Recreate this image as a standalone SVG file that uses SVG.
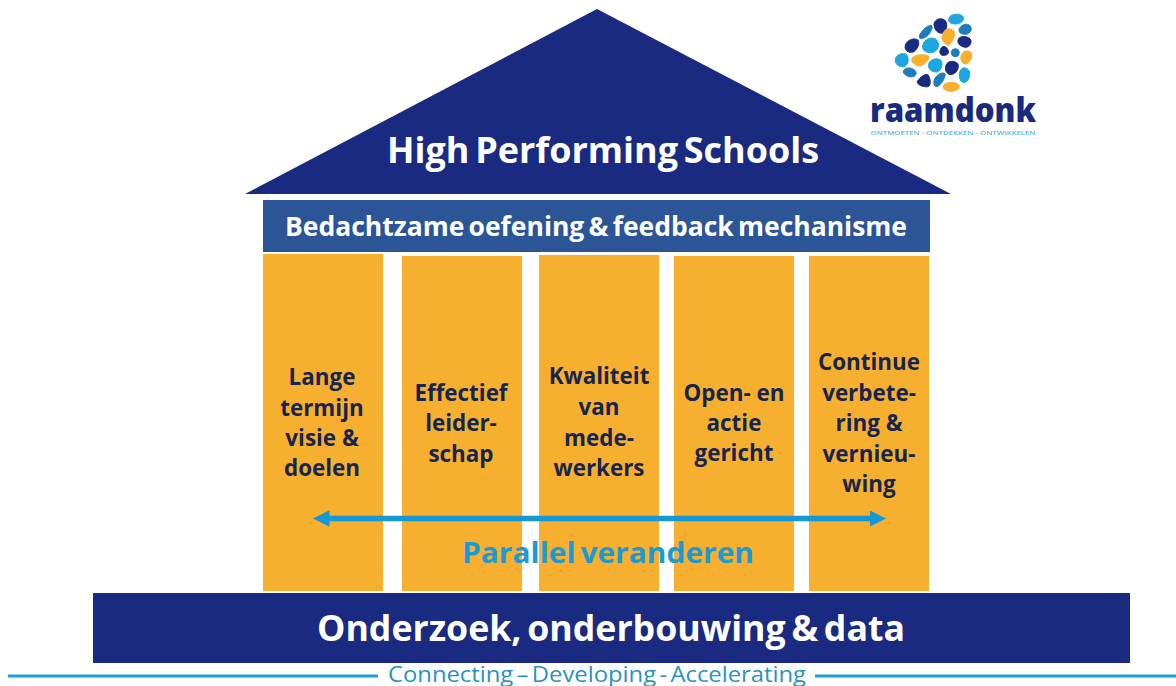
<svg xmlns="http://www.w3.org/2000/svg" width="1176" height="686" viewBox="0 0 1176 686">
<style>
text{font-family:"Open Sans","Noto Sans",sans-serif;text-anchor:middle}
.nv{fill:#1a2a80}.or{fill:#f7af30}
.pl{font-size:22.400px;font-weight:700;fill:#16254f}
.w{fill:#fff;font-weight:700;word-spacing:-.1em}
.lb{fill:#1ea7de;stroke:#1ea7de;stroke-width:3}.mb{fill:#1b7dbb;stroke:#1b7dbb;stroke-width:3}.dk{fill:#1a2a80;stroke:#1a2a80;stroke-width:3}.og{fill:#f7af30;stroke:#f7af30;stroke-width:3}
</style>
<defs><marker id="ah" markerWidth="3.100" markerHeight="3.100" refX="1" refY="1.500" orient="auto-start-reverse"><path d="M0 0L3 1.500L0 3z" fill="#1598d6"/></marker></defs>
<rect width="1176" height="686" fill="#fff"/>
<g id="roof"><polygon class="nv" points="597,9 951,194 245,194"/><text class="w" x="603" y="163" font-size="35" textLength="432" lengthAdjust="spacingAndGlyphs">High Performing Schools</text></g>
<g id="beam"><rect x="263" y="200" width="667" height="52" fill="#2b5597"/><text class="w" x="596" y="236" font-size="26" textLength="622" lengthAdjust="spacingAndGlyphs">Bedachtzame oefening &amp; feedback mechanisme</text></g>
<g id="pillar1"><rect class="or" x="263" y="254" width="120" height="337"/><text class="pl"><tspan x="322" y="385">Lange</tspan><tspan x="322" y="416">termijn</tspan><tspan x="322" y="446">visie &amp;</tspan><tspan x="322" y="476">doelen</tspan></text></g>
<g id="pillar2"><rect class="or" x="402" y="256" width="120" height="335"/><text class="pl"><tspan x="461" y="401">Effectief</tspan><tspan x="461" y="431">leider-</tspan><tspan x="461" y="462">schap</tspan></text></g>
<g id="pillar3"><rect class="or" x="539" y="255" width="120" height="336"/><text class="pl"><tspan x="599" y="384">Kwaliteit</tspan><tspan x="599" y="415">van</tspan><tspan x="599" y="446">mede-</tspan><tspan x="599" y="476">werkers</tspan></text></g>
<g id="pillar4"><rect class="or" x="674" y="256" width="120" height="335"/><text class="pl"><tspan x="734" y="401">Open- en</tspan><tspan x="734" y="431">actie</tspan><tspan x="734" y="461">gericht</tspan></text></g>
<g id="pillar5"><rect class="or" x="809" y="256" width="120" height="335"/><text class="pl"><tspan x="869" y="370">Continue</tspan><tspan x="869" y="401">verbete-</tspan><tspan x="869" y="431">ring &amp;</tspan><tspan x="869" y="462">vernieu-</tspan><tspan x="869" y="492">wing</tspan></text></g>
<g id="connectors"><line x1="324" y1="518.500" x2="875" y2="518.500" stroke="#1598d6" stroke-width="5.500" marker-start="url(#ah)" marker-end="url(#ah)"/></g>
<g id="parallel"><text x="608" y="563" font-size="29" font-weight="700" fill="#1d9ad2" style="word-spacing:-.1em" textLength="292" lengthAdjust="spacingAndGlyphs">Parallel veranderen</text></g>
<g id="foundation"><rect x="93" y="593" width="1037" height="70" fill="#1a2a80"/><text class="w" x="611" y="641" font-size="36" textLength="588" lengthAdjust="spacingAndGlyphs">Onderzoek, onderbouwing &amp; data</text></g>
<g id="footer"><line x1="8" y1="676" x2="378" y2="676" stroke="#1a9fd4" stroke-width="3"/><line x1="815" y1="676" x2="1176" y2="676" stroke="#1a9fd4" stroke-width="3"/><text x="597" y="682" font-size="21.500" fill="#2a93bd" style="word-spacing:-.12em" textLength="418" lengthAdjust="spacingAndGlyphs">Connecting – Developing - Accelerating</text></g>
<g id="logo">
<g transform="translate(890 8) scale(.3333)">
<path class="lb" d="M176 32C180 18 205 14 218 24C226 34 216 46 200 48C186 49 174 44 176 32Z"/>
<path class="dk" d="M132 48C134 34 152 28 164 36C174 46 172 66 160 74C148 80 132 68 132 48Z"/>
<path class="mb" d="M208 62C216 46 238 44 243 58C246 70 236 80 224 79C212 78 204 72 208 62Z"/>
<path class="mb" d="M88 84C94 68 112 52 124 52C130 58 124 72 112 84C102 92 86 96 88 84Z"/>
<path class="og" d="M166 66C174 60 186 62 194 72C196 84 184 106 176 112C166 110 154 96 156 88C158 78 160 72 166 66Z"/>
<path class="dk" d="M204 96C206 84 228 82 240 92C248 102 240 118 226 118C212 116 202 108 204 96Z"/>
<path class="dk" d="M46 112C50 96 72 88 84 96C90 106 84 124 70 132C56 136 42 128 46 112Z"/>
<path class="lb" d="M98 112C102 94 124 84 138 94C150 106 148 124 132 132C114 138 94 130 98 112Z"/>
<path class="dk" d="M150 128C152 116 164 110 172 122C178 132 176 140 164 142C154 144 148 138 150 128Z"/>
<circle class="mb" cx="196" cy="134" r="12"/>
<path class="og" d="M214 140C220 126 240 126 245 136C247 150 240 166 226 168C214 166 210 152 214 140Z"/>
<path class="lb" d="M16 154C18 140 38 132 50 140C58 152 56 170 42 176C26 178 14 168 16 154Z"/>
<path class="og" d="M66 150C78 138 106 138 116 144C118 156 104 172 88 174C74 172 62 162 66 150Z"/>
<path class="lb" d="M116 168C120 154 140 148 152 156C160 166 156 186 142 192C126 194 112 182 116 168Z"/>
<path class="dk" d="M168 172C172 158 194 156 204 168C208 184 198 198 182 200C168 198 164 186 168 172Z"/>
<path class="lb" d="M210 190C214 176 232 176 238 190C242 204 236 220 222 224C208 222 206 204 210 190Z"/>
<path class="mb" d="M42 186C50 176 70 178 78 192C80 204 70 208 58 206C46 202 36 196 42 186Z"/>
<path class="dk" d="M82 220C90 208 104 196 114 200C122 212 124 232 114 236C102 238 80 232 82 220Z"/>
<path class="mb" d="M134 212C142 200 156 190 166 198C164 212 154 232 140 236C130 234 130 222 134 212Z"/>
<path class="og" d="M160 232C172 220 198 220 208 232C210 244 192 252 178 250C166 248 156 242 160 232Z"/>
</g>
<text x="953" y="122" font-size="34" font-weight="800" fill="#1a2a7c" textLength="166" lengthAdjust="spacingAndGlyphs">raamdonk</text>
<text x="953" y="135" font-size="5.500" font-weight="600" fill="#5bb5d8" textLength="165" lengthAdjust="spacingAndGlyphs">ONTMOETEN - ONTDEKKEN - ONTWIKKELEN</text>
</g>
</svg>
